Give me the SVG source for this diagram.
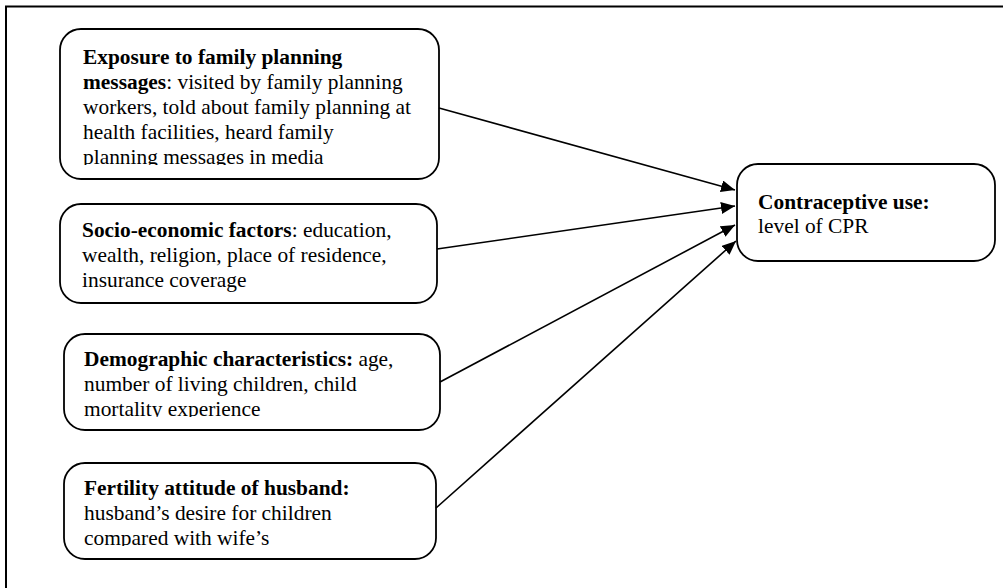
<svg xmlns="http://www.w3.org/2000/svg" width="1003" height="588" viewBox="0 0 1003 588">
<style>
.box{fill:#fff;stroke:#000;stroke-width:1.8}
.t{font-family:"Liberation Serif","Times New Roman",serif;font-size:21.4px;fill:#000}
.b{font-weight:bold}
.c{stroke:#000;stroke-width:1.6;fill:none}
</style>
<defs>
<marker id="ah" markerUnits="userSpaceOnUse" markerWidth="16" markerHeight="14" refX="14" refY="6" orient="auto">
<path d="M0,0 L14,6 L0,12 Z" fill="#000"/>
</marker>
<clipPath id="c1"><rect x="60" y="29" width="380" height="136"/></clipPath>
<clipPath id="c3"><rect x="64" y="334" width="377" height="83"/></clipPath>
<clipPath id="c4"><rect x="64" y="463" width="373" height="83"/></clipPath>
</defs>
<rect width="1003" height="588" fill="#fff"/>
<path d="M6,588 V6.5 H1003" fill="none" stroke="#000" stroke-width="2"/>
<g id="node-exposure">
<rect class="box" x="60" y="29" width="379" height="150" rx="21"/>
<text class="t" clip-path="url(#c1)">
<tspan x="83" y="64" class="b">Exposure to family planning</tspan>
<tspan x="83" y="89"><tspan class="b">messages</tspan>: visited by family planning</tspan>
<tspan x="83" y="114">workers, told about family planning at</tspan>
<tspan x="83" y="139">health facilities, heard family</tspan>
<tspan x="83" y="164">planning messages in media</tspan>
</text>
</g>
<g id="node-socio">
<rect class="box" x="60" y="204" width="377" height="99" rx="21"/>
<text class="t">
<tspan x="82" y="237"><tspan class="b">Socio-economic factors</tspan>: education,</tspan>
<tspan x="82" y="262">wealth, religion, place of residence,</tspan>
<tspan x="82" y="287">insurance coverage</tspan>
</text>
</g>
<g id="node-demographic">
<rect class="box" x="64" y="334" width="376" height="96" rx="21"/>
<text class="t" clip-path="url(#c3)">
<tspan x="84" y="366"><tspan class="b">Demographic characteristics:</tspan> age,</tspan>
<tspan x="84" y="391">number of living children, child</tspan>
<tspan x="84" y="416">mortality experience</tspan>
</text>
</g>
<g id="node-fertility">
<rect class="box" x="64" y="463" width="372" height="96" rx="21"/>
<text class="t" clip-path="url(#c4)">
<tspan x="84" y="495" class="b">Fertility attitude of husband:</tspan>
<tspan x="84" y="520">husband’s desire for children</tspan>
<tspan x="84" y="545">compared with wife’s</tspan>
</text>
</g>
<g id="node-contraceptive">
<rect class="box" x="737" y="164" width="258" height="97" rx="21"/>
<text class="t">
<tspan x="758" y="209" class="b">Contraceptive use:</tspan>
<tspan x="758" y="233">level of CPR</tspan>
</text>
</g>
<g id="connectors">
<line class="c" x1="439" y1="108" x2="735" y2="190" marker-end="url(#ah)"/>
<line class="c" x1="437" y1="249" x2="735" y2="206" marker-end="url(#ah)"/>
<line class="c" x1="440" y1="382" x2="735" y2="225" marker-end="url(#ah)"/>
<line class="c" x1="436" y1="508" x2="736" y2="241" marker-end="url(#ah)"/>
</g>
</svg>
